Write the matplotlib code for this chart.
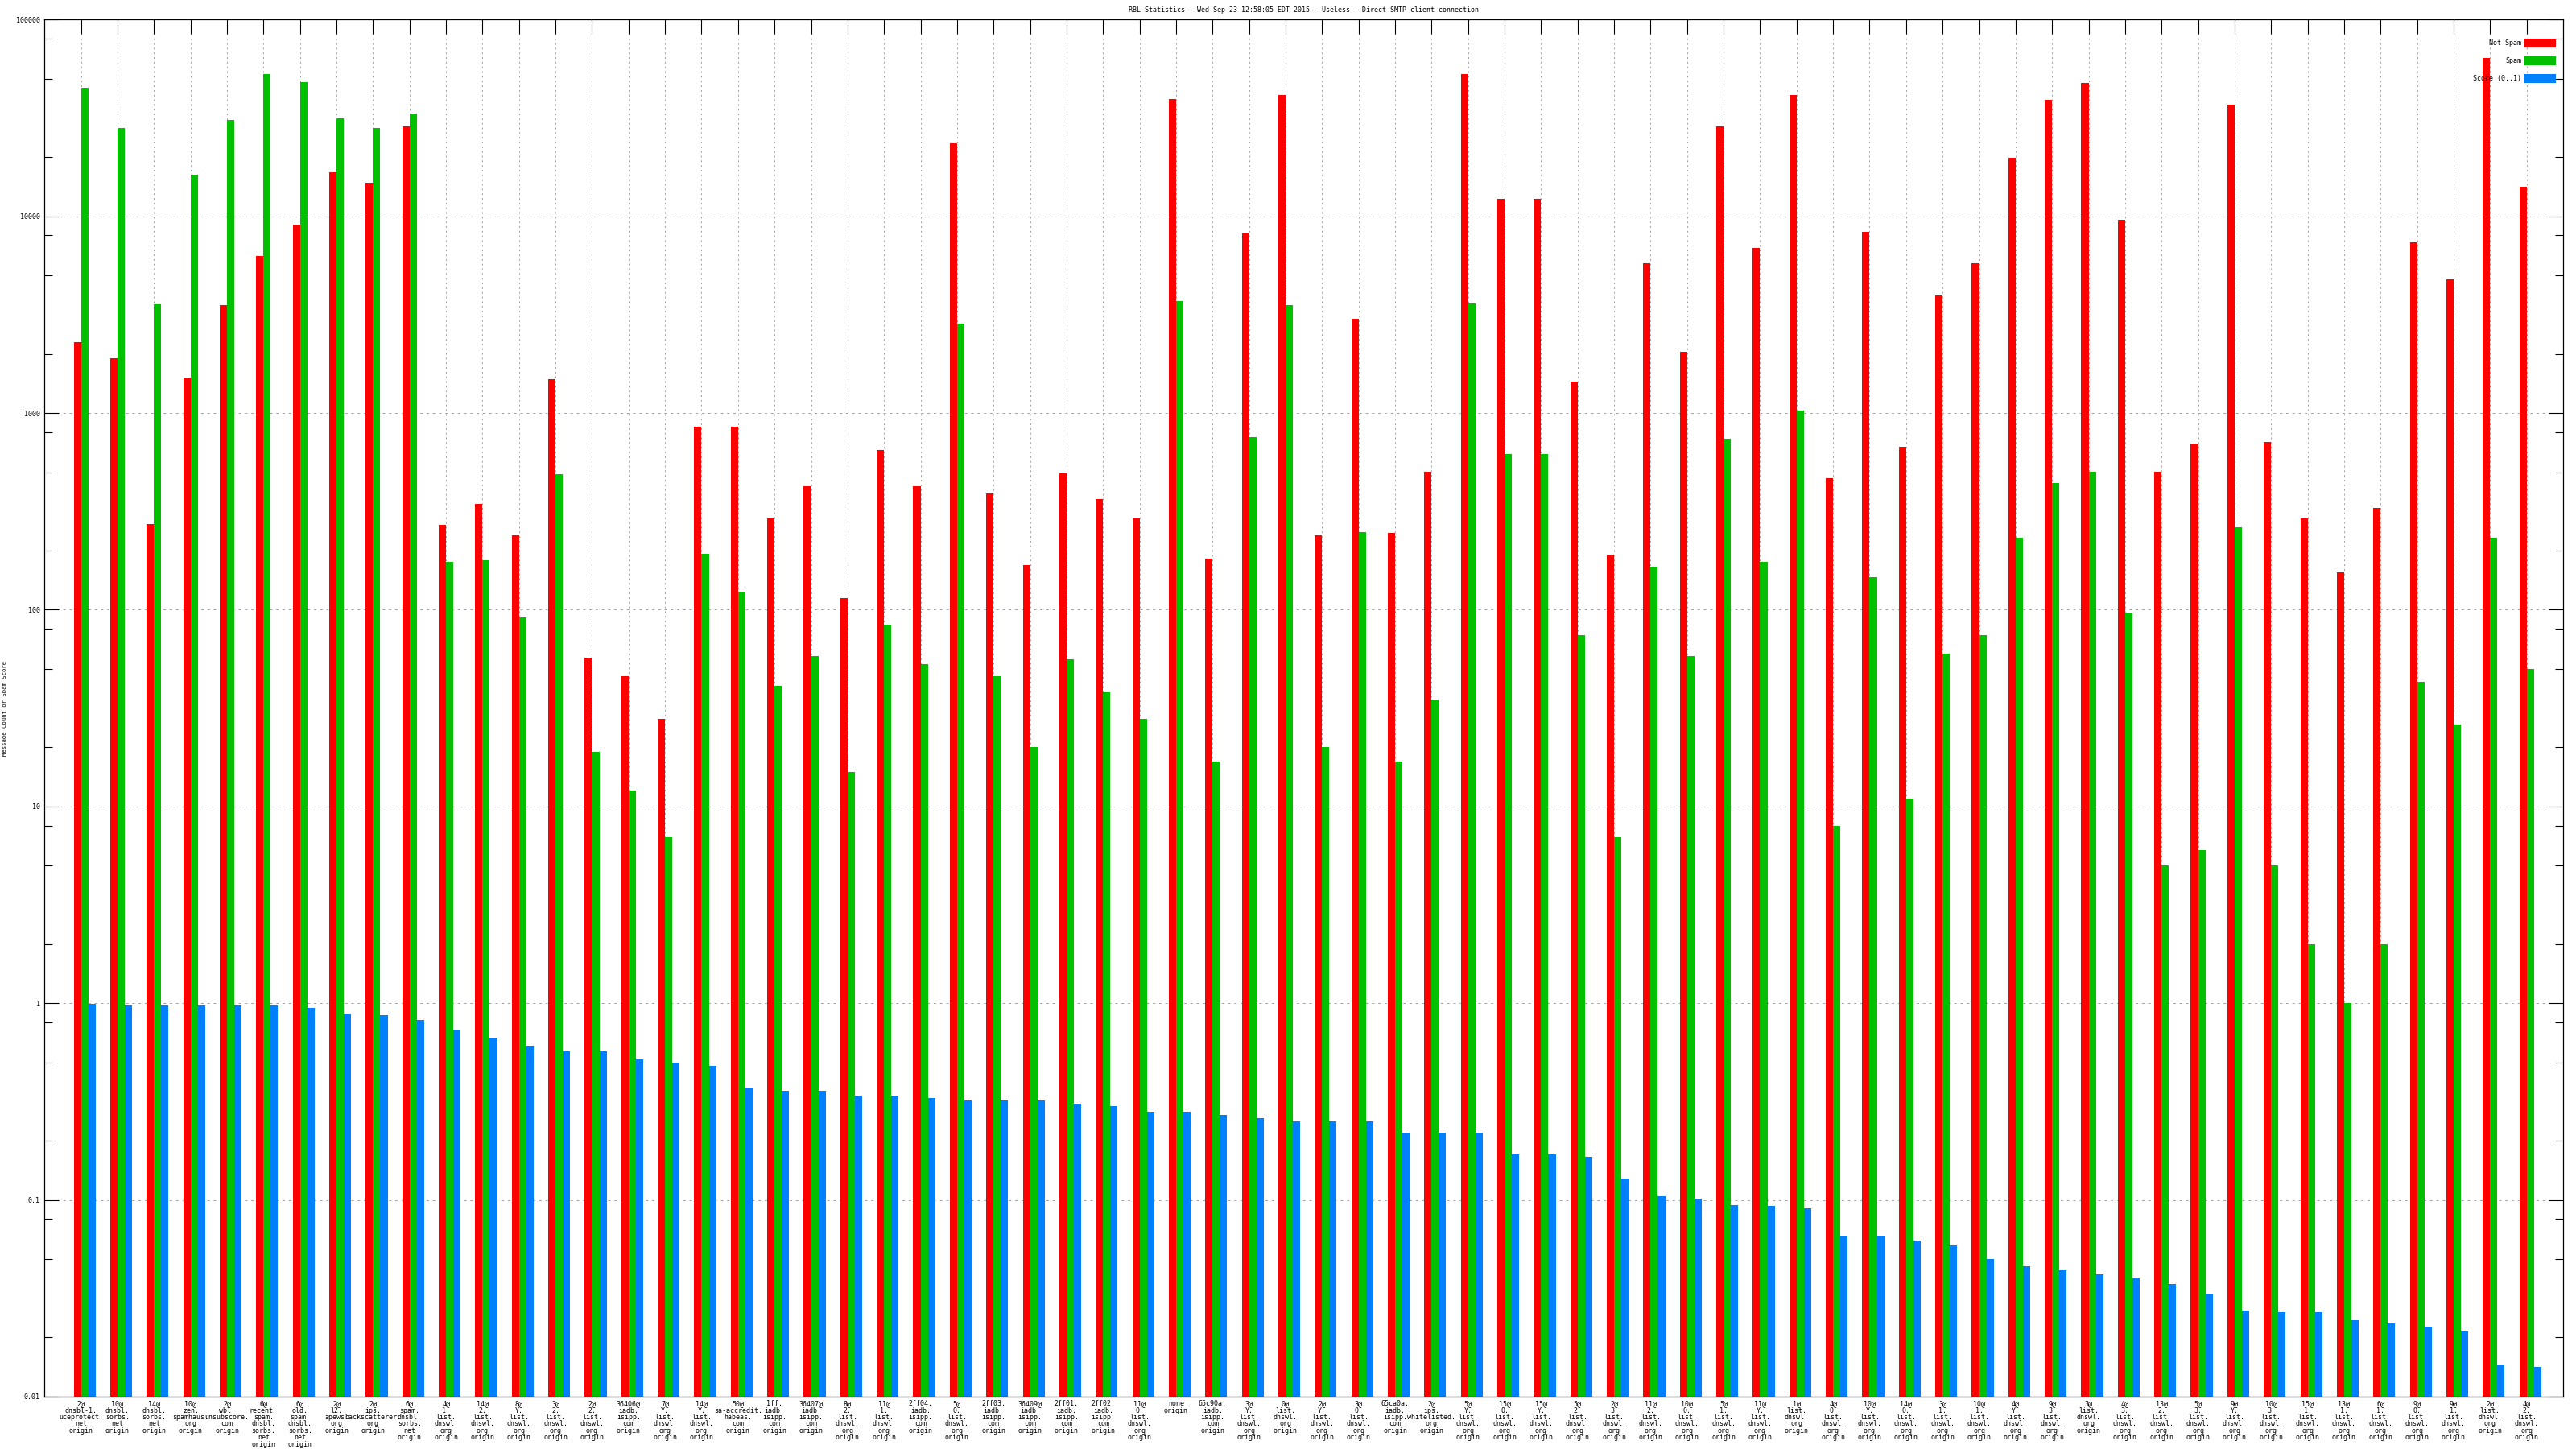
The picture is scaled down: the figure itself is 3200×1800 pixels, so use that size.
import matplotlib
matplotlib.use("Agg")
import matplotlib.pyplot as plt
import numpy as np
from matplotlib.ticker import FixedLocator, FixedFormatter, NullFormatter

# ---------------- data ----------------
labels = [
    "2@\ndnsbl-1.\nuceprotect.\nnet\norigin",
    "10@\ndnsbl.\nsorbs.\nnet\norigin",
    "14@\ndnsbl.\nsorbs.\nnet\norigin",
    "10@\nzen.\nspamhaus.\norg\norigin",
    "2@\nwbl.\nunsubscore.\ncom\norigin",
    "6@\nrecent.\nspam.\ndnsbl.\nsorbs.\nnet\norigin",
    "6@\nold.\nspam.\ndnsbl.\nsorbs.\nnet\norigin",
    "2@\nl2.\napews.\norg\norigin",
    "2@\nips.\nbackscatterer.\norg\norigin",
    "6@\nspam.\ndnsbl.\nsorbs.\nnet\norigin",
    "4@\n1.\nlist.\ndnswl.\norg\norigin",
    "14@\n2.\nlist.\ndnswl.\norg\norigin",
    "8@\nY.\nlist.\ndnswl.\norg\norigin",
    "3@\n2.\nlist.\ndnswl.\norg\norigin",
    "2@\n2.\nlist.\ndnswl.\norg\norigin",
    "36406@\niadb.\nisipp.\ncom\norigin",
    "7@\nY.\nlist.\ndnswl.\norg\norigin",
    "14@\nY.\nlist.\ndnswl.\norg\norigin",
    "50@\nsa-accredit.\nhabeas.\ncom\norigin",
    "1ff.\niadb.\nisipp.\ncom\norigin",
    "36407@\niadb.\nisipp.\ncom\norigin",
    "8@\n2.\nlist.\ndnswl.\norg\norigin",
    "11@\n1.\nlist.\ndnswl.\norg\norigin",
    "2ff04.\niadb.\nisipp.\ncom\norigin",
    "5@\n0.\nlist.\ndnswl.\norg\norigin",
    "2ff03.\niadb.\nisipp.\ncom\norigin",
    "36409@\niadb.\nisipp.\ncom\norigin",
    "2ff01.\niadb.\nisipp.\ncom\norigin",
    "2ff02.\niadb.\nisipp.\ncom\norigin",
    "11@\n0.\nlist.\ndnswl.\norg\norigin",
    "none\norigin",
    "65c90a.\niadb.\nisipp.\ncom\norigin",
    "3@\nY.\nlist.\ndnswl.\norg\norigin",
    "0@\nlist.\ndnswl.\norg\norigin",
    "2@\nY.\nlist.\ndnswl.\norg\norigin",
    "3@\n0.\nlist.\ndnswl.\norg\norigin",
    "65ca0a.\niadb.\nisipp.\ncom\norigin",
    "2@\nips.\nwhitelisted.\norg\norigin",
    "5@\nY.\nlist.\ndnswl.\norg\norigin",
    "15@\n0.\nlist.\ndnswl.\norg\norigin",
    "15@\nY.\nlist.\ndnswl.\norg\norigin",
    "5@\n2.\nlist.\ndnswl.\norg\norigin",
    "2@\n3.\nlist.\ndnswl.\norg\norigin",
    "11@\n2.\nlist.\ndnswl.\norg\norigin",
    "10@\n0.\nlist.\ndnswl.\norg\norigin",
    "5@\n1.\nlist.\ndnswl.\norg\norigin",
    "11@\nY.\nlist.\ndnswl.\norg\norigin",
    "1@\nlist.\ndnswl.\norg\norigin",
    "4@\n0.\nlist.\ndnswl.\norg\norigin",
    "10@\nY.\nlist.\ndnswl.\norg\norigin",
    "14@\n0.\nlist.\ndnswl.\norg\norigin",
    "3@\n1.\nlist.\ndnswl.\norg\norigin",
    "10@\n1.\nlist.\ndnswl.\norg\norigin",
    "4@\nY.\nlist.\ndnswl.\norg\norigin",
    "9@\n3.\nlist.\ndnswl.\norg\norigin",
    "3@\nlist.\ndnswl.\norg\norigin",
    "4@\n3.\nlist.\ndnswl.\norg\norigin",
    "13@\n2.\nlist.\ndnswl.\norg\norigin",
    "5@\n3.\nlist.\ndnswl.\norg\norigin",
    "9@\nY.\nlist.\ndnswl.\norg\norigin",
    "10@\n3.\nlist.\ndnswl.\norg\norigin",
    "15@\n1.\nlist.\ndnswl.\norg\norigin",
    "13@\n1.\nlist.\ndnswl.\norg\norigin",
    "6@\n1.\nlist.\ndnswl.\norg\norigin",
    "9@\n0.\nlist.\ndnswl.\norg\norigin",
    "9@\n1.\nlist.\ndnswl.\norg\norigin",
    "2@\nlist.\ndnswl.\norg\norigin",
    "4@\n2.\nlist.\ndnswl.\norg\norigin",
]

not_spam = [2300, 1900, 273, 1510, 3530, 6300, 9100, 16700, 14800, 28700,
            270, 345, 240, 1480, 57, 46, 28, 850, 850, 290,
            425, 115, 650, 425, 23600, 390, 168, 495, 365, 290,
            39600, 182, 8200, 41500, 240, 3000, 245, 505, 52700, 12300,
            12300, 1450, 190, 5800, 2040, 28700, 6900, 41500, 466, 8300,
            675, 3950, 5800, 19800, 39000, 47500, 9600, 505, 700, 37000,
            710, 290, 155, 330, 7400, 4800, 64000, 14100]

spam = [45000, 28000, 3560, 16300, 31000, 52700, 48000, 31500, 28000, 33400,
        175, 178, 91, 487, 19, 12, 7, 193, 124, 41,
        58, 15, 84, 53, 2840, 46, 20, 56, 38, 28,
        3720, 17, 755, 3530, 20, 248, 17, 35, 3620, 620,
        620, 74, 7, 165, 58, 740, 175, 1030, 8, 147,
        11, 60, 74, 233, 440, 505, 96, 5, 6, 263,
        5, 2, 1, 2, 43, 26, 233, 50]

score = [0.99, 0.97, 0.97, 0.97, 0.97, 0.97, 0.95, 0.88, 0.87, 0.82,
         0.73, 0.67, 0.61, 0.57, 0.57, 0.52, 0.50, 0.48, 0.37, 0.36,
         0.36, 0.34, 0.34, 0.33, 0.32, 0.32, 0.32, 0.31, 0.30, 0.28,
         0.28, 0.27, 0.26, 0.25, 0.25, 0.25, 0.22, 0.22, 0.22, 0.17,
         0.17, 0.166, 0.129, 0.104, 0.102, 0.094, 0.093, 0.091, 0.065, 0.065,
         0.062, 0.059, 0.050, 0.046, 0.044, 0.042, 0.040, 0.0375, 0.033, 0.0275,
         0.027, 0.027, 0.0245, 0.0235, 0.0228, 0.0215, 0.0144, 0.0142]

series_names = ["Not Spam", "Spam", "Score (0..1)"]
y_tick_values = [0.01, 0.1, 1, 10, 100, 1000, 10000, 100000]
y_tick_labels = ["0.01", "0.1", "1", "10", "100", "1000", "10000", "100000"]

title = "RBL Statistics - Wed Sep 23 12:58:05 EDT 2015 - Useless - Direct SMTP client connection"
ylabel = "Message Count or Spam Score"

# ---------------- style ----------------
colors = ["#ff0000", "#00c000", "#0080ff"]
MONO = ["DejaVu Sans Mono"]
FS = 6
W_PX, H_PX = 3200, 1800
DPI = 100
ax_left_px, ax_right_px = 55.3, 3184.0
ax_top_px, ax_bottom_px = 24.3, 1735.0

fig = plt.figure(figsize=(W_PX / DPI, H_PX / DPI), dpi=DPI)
ax = fig.add_axes([ax_left_px / W_PX, 1 - ax_bottom_px / H_PX,
                   (ax_right_px - ax_left_px) / W_PX,
                   (ax_bottom_px - ax_top_px) / H_PX])

n = len(labels)
x = np.arange(n)
bw = 0.2
ax.bar(x - bw / 2, not_spam, bw, color=colors[0], linewidth=0, zorder=2)
ax.bar(x + bw / 2, spam, bw, color=colors[1], linewidth=0, zorder=2)
ax.bar(x + 1.5 * bw, score, bw, color=colors[2], linewidth=0, zorder=2)

ax.set_yscale("log")
ax.set_ylim(0.01, 100000)
ax.set_xlim(-1, n)

ax.yaxis.set_major_locator(FixedLocator(y_tick_values))
ax.yaxis.set_major_formatter(FixedFormatter(y_tick_labels))
minor = [m * 10.0 ** e for e in range(-2, 5) for m in (2, 5, 8)]
ax.yaxis.set_minor_locator(FixedLocator(minor))
ax.yaxis.set_minor_formatter(NullFormatter())

ax.set_xticks(x)
ax.set_xticklabels(labels, fontfamily=MONO, fontsize=FS, linespacing=0.92,
                   va="top", ha="center")

ax.tick_params(axis="both", which="major", direction="in", length=13,
               width=0.8, color="black")
ax.tick_params(axis="y", which="minor", direction="in", length=7,
               width=0.8, color="black", left=True, right=True)
ax.tick_params(axis="x", which="major", top=True, bottom=True, pad=3)
ax.tick_params(axis="y", which="major", left=True, right=True, pad=4)
for t in ax.get_yticklabels():
    t.set_fontfamily(MONO)
    t.set_fontsize(FS)

ax.set_axisbelow(True)
ax.grid(True, which="major", axis="y", color="#a0a0a0", linestyle=(0, (3, 5)),
        linewidth=0.7)
ax.grid(True, which="major", axis="x", color="#a0a0a0", linestyle=(0, (2, 4)),
        linewidth=0.7)

for s in ax.spines.values():
    s.set_linewidth(0.9)
    s.set_color("black")

# title and y label
cx = (ax_left_px + ax_right_px) / 2 / W_PX
fig.text(cx, 1 - 12.3 / H_PX, title, ha="center", va="center",
         fontfamily=MONO, fontsize=FS)
fig.text(6 / W_PX, 1 - ((ax_top_px + ax_bottom_px) / 2) / H_PX, ylabel,
         rotation=90, ha="center", va="center", fontfamily=MONO, fontsize=5.2)

# legend (gnuplot style: right-aligned labels, keys on the right)
ax_w = ax_right_px - ax_left_px
ax_h = ax_bottom_px - ax_top_px
key_x0 = (3136 - ax_left_px) / ax_w
key_x1 = (3175 - ax_left_px) / ax_w
text_x = (3132 - ax_left_px) / ax_w
first_top = 48 - ax_top_px
row_h = 22.0
key_h = 11.0
for i, (name, c) in enumerate(zip(series_names, colors)):
    top = first_top + i * row_h
    y0 = 1 - (top + key_h) / ax_h
    ax.add_patch(plt.Rectangle((key_x0, y0), key_x1 - key_x0, key_h / ax_h,
                               transform=ax.transAxes, facecolor=c,
                               edgecolor="none", zorder=10, clip_on=False))
    ax.text(text_x, 1 - (top + key_h / 2) / ax_h, name, transform=ax.transAxes,
            ha="right", va="center", fontfamily=MONO, fontsize=FS, zorder=11)

fig.savefig("out.png", dpi=DPI, facecolor="white")
